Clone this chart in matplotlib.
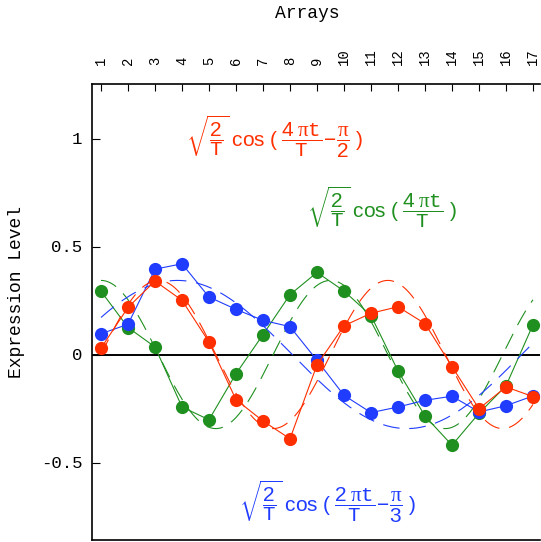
import numpy as np
import matplotlib
matplotlib.use("Agg")
import matplotlib.pyplot as plt

# ---------------- data ----------------
arrays = list(range(1, 18))
tick_labels = [str(i) for i in arrays]

red_vals = [0.029, 0.218, 0.340, 0.251, 0.058, -0.209, -0.308, -0.390, -0.048,
            0.133, 0.191, 0.221, 0.143, -0.056, -0.251, -0.150, -0.195]
green_vals = [0.293, 0.125, 0.035, -0.243, -0.302, -0.089, 0.092, 0.277, 0.380,
              0.294, 0.180, -0.076, -0.285, -0.420, -0.272, -0.145, 0.138]
blue_vals = [0.096, 0.140, 0.395, 0.420, 0.266, 0.209, 0.158, 0.129, -0.027,
             -0.189, -0.269, -0.243, -0.212, -0.193, -0.266, -0.237, -0.192]

# model curves sqrt(2/T) cos(k*pi*t/T + phase), t = array - 1
T_period = 17
red_model = (4, -np.pi / 2)
green_model = (4, 0.0)
blue_model = (2, -np.pi / 3)

yticks = [-0.5, 0, 0.5, 1]
ytick_labels = ["-0.5", "0", "0.5", "1"]

RED = "#ff2f00"
GREEN = "#1f901f"
BLUE = "#1f3cff"

# ---------------- style ----------------
plt.rcParams["mathtext.fontset"] = "custom"
plt.rcParams["mathtext.rm"] = "Liberation Sans"
plt.rcParams["mathtext.tt"] = "Liberation Mono"
plt.rcParams["mathtext.it"] = "Liberation Serif"
plt.rcParams["mathtext.bf"] = "Liberation Sans:bold"
plt.rcParams["lines.scale_dashes"] = False

W, H = 541, 542
fig = plt.figure(figsize=(W / 100, H / 100), dpi=100)
L, R, TOP, BOT = 92.3, 540, 84, 540
ax = fig.add_axes([L / W, (H - BOT) / H, (R - L) / W, (BOT - TOP) / H])

x = np.array(arrays, dtype=float)
tt = np.linspace(1, 17, 400)
amp = np.sqrt(2.0 / T_period)


def model(params):
    k, ph = params
    return amp * np.cos(k * np.pi * (tt - 1) / T_period + ph)


ax.axhline(0, color="black", lw=1.4, zorder=1)

for vals, params, col, z in [(green_vals, green_model, GREEN, 2),
                             (blue_vals, blue_model, BLUE, 3),
                             (red_vals, red_model, RED, 4)]:
    ax.plot(tt, model(params), color=col, lw=0.8, dashes=(12, 7), zorder=z)
    ax.plot(x, vals, color=col, lw=0.8, marker="o", markersize=9.5,
            markeredgewidth=0, zorder=z)

ax.set_xlim(0.678, 17 + (R - 533) / 27.0)
ax.set_ylim((354.5 - BOT) / 216.0, (354.5 - TOP) / 216.0)

ax.xaxis.tick_top()
ax.set_xticks(arrays)
ax.set_xticklabels(tick_labels, rotation=90, family="Liberation Mono", fontsize=10)
ax.tick_params(axis="x", direction="in", length=5, width=0.8, pad=14, top=True, bottom=False)
ax.set_yticks(yticks)
ax.set_yticklabels(ytick_labels, family="Liberation Mono", fontsize=12.5)
ax.tick_params(axis="y", direction="in", length=6, width=0.8, pad=7, left=True, right=False)
ax.yaxis.set_minor_locator(matplotlib.ticker.NullLocator())

for s in ax.spines.values():
    s.set_linewidth(1.2)
ax.spines["right"].set_visible(False)

fig.text(307 / W, 1 - 14 / H, "Arrays", ha="center", va="center",
         family="Liberation Mono", fontsize=13)
fig.text(17 / W, 1 - 292 / H, "Expression Level", ha="center", va="center",
         rotation=90, family="Liberation Mono", fontsize=13)

fs = 15
sp = r"\,"
ax.text(7.44, 1.007,
        r"$\sqrt{\dfrac{2}{\mathtt{T}}}\;\mathrm{cos}\ (\;\dfrac{4\;\pi\mathtt{t}}{\mathtt{T}}\!-\!\dfrac{\pi}{2}\ )$",
        color=RED, fontsize=fs, ha="center", va="center")
ax.text(11.4, 0.683,
        r"$\sqrt{\dfrac{2}{\mathtt{T}}}\;\mathrm{cos}\ (\;\dfrac{4\;\pi\mathtt{t}}{\mathtt{T}}\ )$",
        color=GREEN, fontsize=fs, ha="center", va="center")
ax.text(9.4, -0.683,
        r"$\sqrt{\dfrac{2}{\mathtt{T}}}\;\mathrm{cos}\ (\;\dfrac{2\;\pi\mathtt{t}}{\mathtt{T}}\!-\!\dfrac{\pi}{3}\ )$",
        color=BLUE, fontsize=fs, ha="center", va="center")

fig.savefig("out.png", dpi=100)
